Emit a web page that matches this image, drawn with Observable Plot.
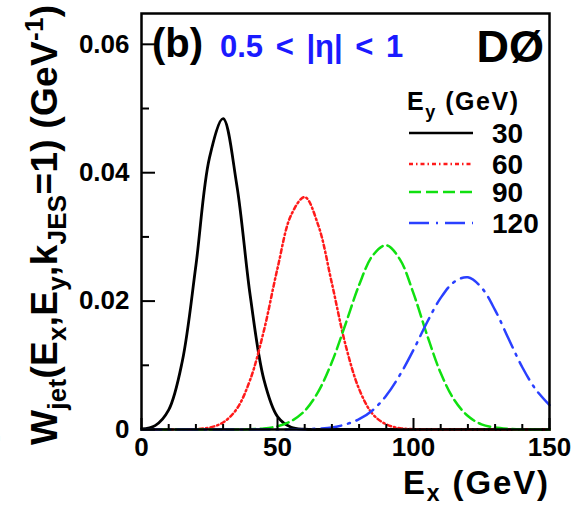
<!DOCTYPE html>
<html><head><meta charset="utf-8">
<script src="https://cdn.jsdelivr.net/npm/d3@7"></script>
<script src="https://cdn.jsdelivr.net/npm/@observablehq/plot@0.6"></script>
<style>
html,body{margin:0;padding:0;background:#fff;}
#chart{width:574px;height:506px;overflow:hidden;}
</style></head><body><div id="chart"></div>
<script>
// E_x sample points (GeV)
const ex = [0,5,10,15,20,25,30,35,40,45,50,55,60,65,70,75,80,85,90,95,100,105,110,115,120,125,130,135,140,145,150];
// W_jet values, one array per E_y
const w30  = [0.00008,0.0006,0.00305,0.01063,0.02555,0.04235,0.04842,0.03817,0.02075,0.00777,0.00201,0.00036,0.00004,0,0,0,0,0,0,0,0,0,0,0,0,0,0,0,0,0,0];
const w60  = [0,0,0,0.00001,0.00006,0.0003,0.0011,0.0032,0.0078,0.0154,0.0251,0.0334,0.0362,0.0318,0.02275,0.0132,0.0063,0.0024,0.0008,0.0002,0.00004,0,0,0,0,0,0,0,0,0,0];
const w90  = [0,0,0,0,0,0,0,0,0.00005,0.00016,0.0005,0.0013,0.0029,0.0059,0.0105,0.0164,0.0225,0.0271,0.0287,0.0265,0.0212,0.0147,0.0088,0.0046,0.0021,0.0008,0.0003,0.0001,0.00002,0,0];
const w120 = [0,0,0,0,0,0,0,0,0,0,0.00001,0.00002,0.00005,0.00013,0.0003,0.0008,0.0016,0.003,0.0053,0.0085,0.0124,0.0167,0.0205,0.023,0.0237,0.0221,0.0186,0.0141,0.0097,0.0062,0.0038];
const seriesLabels = ["30","60","90","120"];

const xMajorTicks = [0,50,100,150];
const xTickLabels = ["0","50","100","150"];
const xMinorTicks = [10,20,30,40,60,70,80,90,110,120,130,140];
const yMajorTicks = [0,0.02,0.04,0.06];
const yTickLabels = ["0","0.02","0.04","0.06"];
const yMinorTicks = [0.01,0.03,0.05];

const W = 574, H = 506, mL = 141, mR = 25, mT = 13, mB = 77;
const fw = W - mL - mR, fh = H - mT - mB;

const styles = [
  {color:"#000000", dash:null},
  {color:"#ff1a1a", dash:"4,3,1.5,3"},
  {color:"#10e010", dash:"12,5"},
  {color:"#2a40ff", dash:"20,7,2,7"}
];
const values = [w30, w60, w90, w120];

const lineMarks = values.map((vals, k) =>
  Plot.line(ex.map((x, i) => ({x, y: vals[i]})), {
    x: "x", y: "y", stroke: styles[k].color, strokeWidth: k === 0 ? 2.8 : 2.5,
    strokeDasharray: styles[k].dash, curve: "catmull-rom"
  })
);

const svg = Plot.plot({
  width: W, height: H,
  marginLeft: mL, marginRight: mR, marginTop: mT, marginBottom: mB,
  style: {fontFamily: "'Liberation Sans', Arial, sans-serif", fontWeight: "bold", background: "#fff", color: "#000", overflow: "visible"},
  x: {domain: [0, 150], axis: null},
  y: {domain: [0, 0.0648], axis: null},
  marks: [
    ...lineMarks,
    Plot.ruleY(yMajorTicks, {y: d => d, insetRight: fw - 14, stroke: "#000", strokeWidth: 2}),
    Plot.ruleY(yMinorTicks, {y: d => d, insetRight: fw - 8, stroke: "#000", strokeWidth: 2}),
    Plot.ruleX(xMajorTicks, {x: d => d, insetTop: fh - 11, stroke: "#000", strokeWidth: 2}),
    Plot.ruleX(xMinorTicks, {x: d => d, insetTop: fh - 5, stroke: "#000", strokeWidth: 2}),
    Plot.frame({stroke: "#000", strokeWidth: 2.5}),
    Plot.text(xMajorTicks, {x: d => d, text: (d, i) => xTickLabels[i], frameAnchor: "bottom", lineAnchor: "top", dy: 8, fontSize: 26, fontWeight: "bold", fill: "#000"}),
    Plot.text(yMajorTicks, {y: d => d, text: (d, i) => yTickLabels[i], frameAnchor: "left", textAnchor: "end", dx: -12, fontSize: 26, fontWeight: "bold", fill: "#000"})
  ]
});
document.getElementById("chart").appendChild(svg);

const g = d3.select(svg).append("g")
  .attr("font-family", "'Liberation Sans', Arial, sans-serif")
  .attr("font-weight", "bold")
  .attr("text-anchor", "start");

// panel labels
g.append("text").attr("x", 152).attr("y", 57).attr("font-size", 40).attr("fill", "#000").text("(b)");
g.append("text").attr("x", 220).attr("y", 57).attr("font-size", 31).attr("word-spacing", "4px").attr("fill", "#1a1aff").text("0.5 < |η| < 1");
g.append("text").attr("x", 544).attr("y", 62).attr("font-size", 45).attr("text-anchor", "end").attr("fill", "#000").text("DØ");

// x title
const xt = g.append("text").attr("x", 403).attr("y", 494).attr("font-size", 33).attr("fill", "#000")
  .attr("textLength", 145).attr("lengthAdjust", "spacing");
xt.append("tspan").text("E");
xt.append("tspan").attr("font-size", 23).attr("dy", 7).text("x");
xt.append("tspan").attr("dy", -7).text(" (GeV)");

// y title
const yt = g.append("text").attr("transform", "translate(57,445) rotate(-90)").attr("font-size", 37).attr("fill", "#000")
  .attr("textLength", 440).attr("lengthAdjust", "spacing");
yt.append("tspan").text("W");
yt.append("tspan").attr("font-size", 26).attr("dy", 9).text("jet");
yt.append("tspan").attr("dy", -9).text("(E");
yt.append("tspan").attr("font-size", 26).attr("dy", 9).text("x");
yt.append("tspan").attr("dy", -9).text(",E");
yt.append("tspan").attr("font-size", 26).attr("dy", 9).text("y");
yt.append("tspan").attr("dy", -9).text(",k");
yt.append("tspan").attr("font-size", 26).attr("dy", 9).text("JES");
yt.append("tspan").attr("dy", -9).text("=1) (GeV");
yt.append("tspan").attr("font-size", 26).attr("dy", -14).text("-1");
yt.append("tspan").attr("dy", 14).text(")");

// stray neighbour-panel glyph at left edge
g.append("text").attr("x", -9).attr("y", 446).attr("font-size", 30).attr("fill", "#000").text(")");

// legend
const lh = g.append("text").attr("x", 407).attr("y", 110).attr("font-size", 25).attr("fill", "#000")
  .attr("textLength", 111).attr("lengthAdjust", "spacing");
lh.append("tspan").text("E");
lh.append("tspan").attr("font-size", 18).attr("dy", 8).text("y");
lh.append("tspan").attr("dy", -8).text(" (GeV)");

const legendY = [133, 164, 192, 223];
seriesLabels.forEach((lab, k) => {
  g.append("line").attr("x1", 409).attr("x2", 473).attr("y1", legendY[k]).attr("y2", legendY[k])
    .attr("stroke", styles[k].color).attr("stroke-width", 2.5)
    .attr("stroke-dasharray", styles[k].dash);
  g.append("text").attr("x", 492).attr("y", legendY[k] + 10).attr("font-size", 28).attr("fill", "#000").text(lab);
});
</script>
</body></html>
